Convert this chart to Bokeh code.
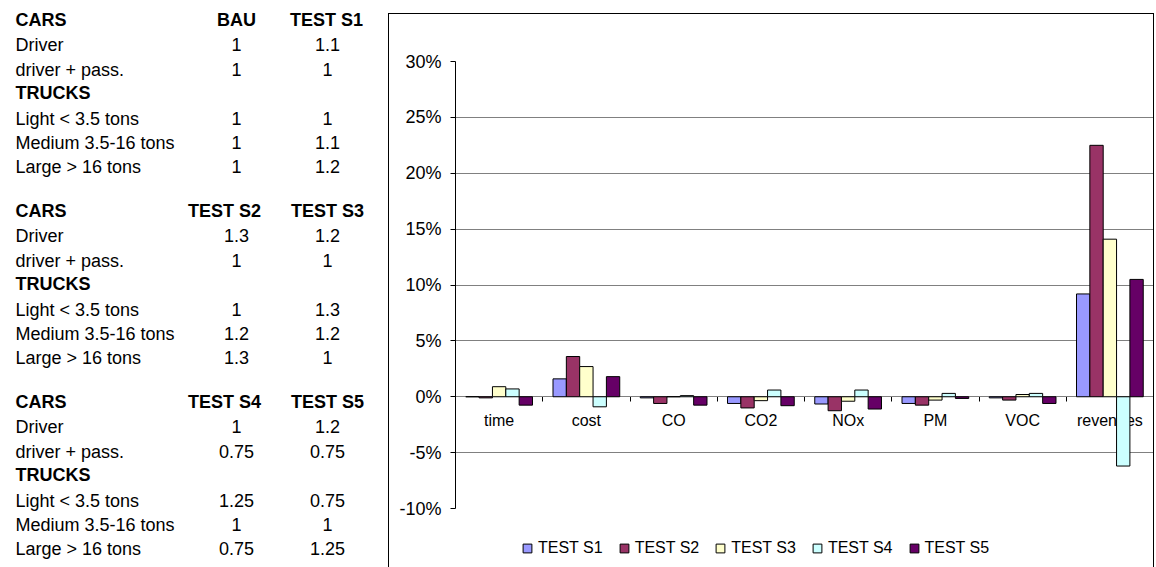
from bokeh.plotting import figure
from bokeh.layouts import row, column
from bokeh.models import (Range1d, LinearAxis, FixedTicker, PrintfTickFormatter, Spacer,
                          Legend, LegendItem, ColumnDataSource, InlineStyleSheet)
from bokeh.core.properties import value
from bokeh.embed import file_html
from bokeh.resources import INLINE

# ---------------- data ----------------
categories = ["time", "cost", "CO", "CO2", "NOx", "PM", "VOC", "revenues"]
series_names = ["TEST S1", "TEST S2", "TEST S3", "TEST S4", "TEST S5"]
test_s1_pct = [0.0, 1.6, -0.1, -0.6, -0.65, -0.6, -0.1, 9.2]
test_s2_pct = [-0.1, 3.6, -0.6, -1.0, -1.25, -0.75, -0.3, 22.5]
test_s3_pct = [0.9, 2.7, 0.0, -0.35, -0.4, -0.3, 0.2, 14.1]
test_s4_pct = [0.7, -0.9, 0.1, 0.6, 0.6, 0.3, 0.3, -6.2]
test_s5_pct = [-0.75, 1.8, -0.75, -0.8, -1.1, -0.15, -0.6, 10.5]
y_ticks = [-10, -5, 0, 5, 10, 15, 20, 25, 30]

table_rows = ["CARS", "Driver", "driver + pass.", "TRUCKS",
              "Light < 3.5 tons", "Medium 3.5-16 tons", "Large > 16 tons"]
bold_rows = ["CARS", "TRUCKS"]
table_headers = [["BAU", "TEST S1"], ["TEST S2", "TEST S3"], ["TEST S4", "TEST S5"]]
bau = ["1", "1", "1", "1", "1"]
test_s1 = ["1.1", "1", "1", "1.1", "1.2"]
test_s2 = ["1.3", "1", "1", "1.2", "1.3"]
test_s3 = ["1.2", "1", "1.3", "1.2", "1"]
test_s4 = ["1", "0.75", "1.25", "1", "0.75"]
test_s5 = ["1.2", "0.75", "0.75", "1", "1.25"]
table_values = [[bau, test_s1], [test_s2, test_s3], [test_s4, test_s5]]

# ---------------- styles ----------------
colors = ["#9999FF", "#993366", "#FFFFCC", "#CCFFFF", "#660066"]
FONT = "Liberation Sans"
PAGE_H = 567
TABLE_W = 389
BOX_TOP = 14
BOX_RIGHT = 1153
LEG_H = 40

# ---------------- table figure (pixel coordinates) ----------------
t = figure(width=TABLE_W, height=PAGE_H, x_range=Range1d(0, TABLE_W), y_range=Range1d(PAGE_H, 0),
           output_backend="svg", toolbar_location=None, x_axis_location=None, y_axis_location=None,
           min_border=0)
t.grid.visible = False
t.outline_line_color = None
t.background_fill_color = "white"
t.border_fill_color = "white"

block_top = [19, 210, 401]
row_offsets = [0, 25, 50, 73, 99, 123, 147]
label_x = 15
value_cx = [236, 327]
header_cx = [[236, 326], [224, 327], [224, 327]]
value_rows = [1, 2, 4, 5, 6]

left_n = dict(x=[], y=[], text=[])
left_b = dict(x=[], y=[], text=[])
ctr_n = dict(x=[], y=[], text=[])
ctr_b = dict(x=[], y=[], text=[])
for b in range(3):
    for ri, r in enumerate(table_rows):
        d = left_b if r in bold_rows else left_n
        d["x"].append(label_x); d["y"].append(block_top[b] + row_offsets[ri]); d["text"].append(r)
    for c in range(2):
        ctr_b["x"].append(header_cx[b][c]); ctr_b["y"].append(block_top[b]); ctr_b["text"].append(table_headers[b][c])
        for vi, ri in enumerate(value_rows):
            ctr_n["x"].append(value_cx[c]); ctr_n["y"].append(block_top[b] + row_offsets[ri])
            ctr_n["text"].append(table_values[b][c][vi])

for d, align, style in [(left_n, "left", "normal"), (left_b, "left", "bold"),
                        (ctr_n, "center", "normal"), (ctr_b, "center", "bold")]:
    t.text(x="x", y="y", text="text", source=ColumnDataSource(d), text_font=value(FONT),
           text_font_size="18px", text_font_style=style, text_align=align,
           text_baseline="middle", text_color="black")

# ---------------- chart figure ----------------
CH_W = BOX_RIGHT - TABLE_W
CH_H = PAGE_H - BOX_TOP - LEG_H
FR_L, FR_R, FR_T, FR_B = 455, 1153, 61, 508   # page coords of plot area

n_cat = len(categories)
p = figure(width=CH_W, height=CH_H,
           x_range=Range1d(0, n_cat), y_range=Range1d(-10, 30),
           output_backend="svg", toolbar_location=None, x_axis_location=None,
           min_border_left=FR_L - TABLE_W, min_border_right=TABLE_W + CH_W - FR_R,
           min_border_top=FR_T - BOX_TOP, min_border_bottom=BOX_TOP + CH_H - FR_B)
p.outline_line_color = None
p.background_fill_color = "white"
p.border_fill_color = "white"

bar_w = 0.153
all_vals = [test_s1_pct, test_s2_pct, test_s3_pct, test_s4_pct, test_s5_pct]
centers = [i + 0.5 for i in range(n_cat)]
sources = []
for i, (name, vals) in enumerate(zip(series_names, all_vals)):
    src = ColumnDataSource(dict(x=[c + (i - 2) * bar_w for c in centers], val=vals))
    sources.append(src)
    p.vbar(x="x", top="val", bottom=0, width=bar_w, source=src,
           fill_color=colors[i], line_color="black", line_width=1)

p.yaxis.ticker = FixedTicker(ticks=y_ticks)
p.yaxis.formatter = PrintfTickFormatter(format="%d%%")
p.yaxis.major_label_text_font = FONT
p.yaxis.major_label_text_font_size = "18px"
p.yaxis.major_label_text_color = "black"
p.yaxis.major_tick_in = 0
p.yaxis.major_tick_out = 5
p.yaxis.minor_tick_line_color = None
p.yaxis.major_label_standoff = 9
p.yaxis.axis_line_color = "black"
p.yaxis.major_tick_line_color = "black"

p.ygrid.ticker = FixedTicker(ticks=y_ticks)
p.ygrid.grid_line_color = "#808080"
p.xgrid.grid_line_color = None

xa = LinearAxis(ticker=FixedTicker(ticks=centers),
                major_label_overrides={c: lab for c, lab in zip(centers, categories)},
                fixed_location=0, major_tick_line_color=None, minor_tick_line_color=None,
                axis_line_color="black", major_label_text_font=FONT,
                major_label_text_font_size="16px", major_label_text_color="black",
                major_label_standoff=9)
xa.level = "underlay"
p.add_layout(xa, "below")

bax = LinearAxis(ticker=FixedTicker(ticks=list(range(n_cat + 1))),
                 fixed_location=0, major_tick_in=0, major_tick_out=5,
                 major_tick_line_color="black", axis_line_color=None,
                 minor_tick_line_color=None, major_label_text_font_size="0px",
                 major_label_text_color=None)
bax.level = "underlay"
p.add_layout(bax, "below")

# ---------------- legend strip (same series, out of its view range) ----------------
lg = figure(width=CH_W, height=LEG_H, x_range=Range1d(0, n_cat), y_range=Range1d(100, 101),
            output_backend="svg", toolbar_location=None, x_axis_location=None, y_axis_location=None,
            min_border=0)
lg.grid.visible = False
lg.outline_line_color = None
lg.background_fill_color = "white"
lg.border_fill_color = "white"
items = []
for i, name in enumerate(series_names):
    r = lg.scatter(x="x", y="val", source=sources[i], marker="square", size=9,
                   fill_color=colors[i], line_color="black", line_width=1)
    items.append(LegendItem(label=name, renderers=[r]))
legend = Legend(items=items, orientation="horizontal", location=(516 - FR_L, 8),
                glyph_width=22, glyph_height=22, label_standoff=0, spacing=10,
                padding=0, margin=0, border_line_color=None, background_fill_alpha=0,
                label_text_font=FONT, label_text_font_size="16px", label_text_color="black")
lg.add_layout(legend)

boxed = column(p, lg, spacing=0,
               stylesheets=[InlineStyleSheet(css=":host { outline: 1px solid black; }")])
layout = row(t, column(Spacer(height=BOX_TOP, width=CH_W), boxed, spacing=0), spacing=0)
open("out.html", "w").write(file_html(layout, INLINE))
